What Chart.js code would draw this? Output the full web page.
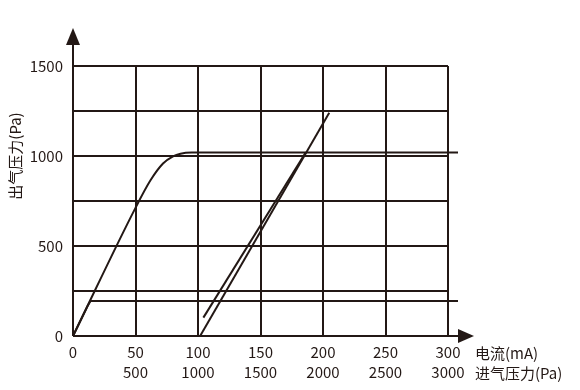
<!DOCTYPE html>
<html>
<head>
<meta charset="utf-8">
<script src="https://cdn.jsdelivr.net/npm/chart.js@4.4.1/dist/chart.umd.min.js"></script>
<style>
  html, body { margin: 0; padding: 0; background: #fff; }
  #wrap { width: 580px; height: 390px; position: relative; }
</style>
</head>
<body>
<div id="wrap"><canvas id="chart"></canvas></div>
<script>
// dados (x em mA, y em Pa)
const currentTicks = [0, 50, 100, 150, 200, 250, 300];
const inletTicks = ['', '500', '1000', '1500', '2000', '2500', '3000'];
const outletTicks = [0, 500, 1000, 1500];

const lowCurveX = [0, 11.6, 14, 308];
const lowCurveY = [0, 165, 194, 194];

const highCurveX = [0, 50, 62, 72, 80, 86, 95, 308];
const highCurveY = [0, 712, 865, 958, 998, 1013, 1019, 1019];

const lineAX = [101.7, 205];
const lineAY = [0, 1240];

const lineBX = [104.3, 186];
const lineBY = [102, 1018];

const INK = '#231815';
const FONT = '"Noto Sans CJK SC", "Noto Sans", sans-serif';

function toPoints(xs, ys) {
    return xs.map((x, i) => ({ x: x, y: ys[i] }));
}

// setas dos eixos e textos extras
const axisArrows = {
    id: 'axisArrows',
    afterDraw(chart) {
        const ctx = chart.ctx;
        const xs = chart.scales.x;
        const ys = chart.scales.y;
        const x0 = xs.getPixelForValue(0);
        const y0 = ys.getPixelForValue(0);
        const yTop = ys.getPixelForValue(1500);
        const xEnd = xs.getPixelForValue(300);
        ctx.save();
        ctx.strokeStyle = INK;
        ctx.fillStyle = INK;
        ctx.lineWidth = 2;
        ctx.beginPath();
        ctx.moveTo(x0, y0);
        ctx.lineTo(x0, yTop - 22);
        ctx.moveTo(x0, y0);
        ctx.lineTo(xEnd + 10, y0);
        ctx.stroke();
        // seta y
        ctx.beginPath();
        ctx.moveTo(x0, yTop - 38);
        ctx.lineTo(x0 - 7, yTop - 21);
        ctx.lineTo(x0 + 7, yTop - 21);
        ctx.closePath();
        ctx.fill();
        // seta x
        ctx.beginPath();
        ctx.moveTo(xEnd + 26, y0);
        ctx.lineTo(xEnd + 10, y0 - 7);
        ctx.lineTo(xEnd + 10, y0 + 7);
        ctx.closePath();
        ctx.fill();

        ctx.font = '15px ' + FONT;
        ctx.textBaseline = 'middle';
        ctx.textAlign = 'left';
        ctx.fillText('电流(mA)', xEnd + 27, y0 + 17);
        ctx.fillText('进气压力(Pa)', xEnd + 27, y0 + 37);

        ctx.translate(15, ys.getPixelForValue(1000));
        ctx.rotate(-Math.PI / 2);
        ctx.textAlign = 'center';
        ctx.fillText('出气压力(Pa)', 0, 0);
        ctx.restore();
    }
};

function lineDataset(xs, ys, tension) {
    return {
        data: toPoints(xs, ys),
        borderColor: INK,
        borderWidth: 2,
        pointRadius: 0,
        fill: false,
        tension: tension,
        cubicInterpolationMode: tension ? 'monotone' : 'default',
        clip: false
    };
}

const ctx = document.getElementById('chart').getContext('2d');
new Chart(ctx, {
    type: 'line',
    data: {
        datasets: [
            lineDataset(lowCurveX, lowCurveY, 0),
            lineDataset(highCurveX, highCurveY, 0.4),
            lineDataset(lineAX, lineAY, 0),
            lineDataset(lineBX, lineBY, 0)
        ]
    },
    options: {
        responsive: true,
        maintainAspectRatio: false,
        animation: false,
        layout: { padding: { top: 66, right: 132, left: 0, bottom: 0 } },
        plugins: {
            legend: { display: false },
            tooltip: { enabled: false }
        },
        scales: {
            x: {
                type: 'linear',
                min: 0,
                max: 300,
                afterBuildTicks: (scale) => {
                    scale.ticks = currentTicks.map(v => ({ value: v }));
                },
                afterFit: (scale) => { scale.height = 54; },
                ticks: {
                    color: INK,
                    font: { family: FONT, size: 15, lineHeight: 1.35 },
                    padding: 6,
                    maxRotation: 0,
                    autoSkip: false,
                    callback: (value, index) => [String(value), inletTicks[index]]
                },
                grid: { color: INK, lineWidth: 2, drawTicks: false },
                border: { display: false }
            },
            y: {
                type: 'linear',
                min: 0,
                max: 1500,
                afterBuildTicks: (scale) => {
                    const t = [];
                    for (let v = 0; v <= 1500; v += 250) t.push({ value: v });
                    scale.ticks = t;
                },
                afterFit: (scale) => { scale.width = 73; },
                ticks: {
                    color: INK,
                    font: { family: FONT, size: 15 },
                    padding: 10,
                    autoSkip: false,
                    callback: (value) => outletTicks.includes(value) ? String(value) : ''
                },
                grid: { color: INK, lineWidth: 2, drawTicks: false },
                border: { display: false }
            }
        }
    },
    plugins: [axisArrows]
});
</script>
</body>
</html>
